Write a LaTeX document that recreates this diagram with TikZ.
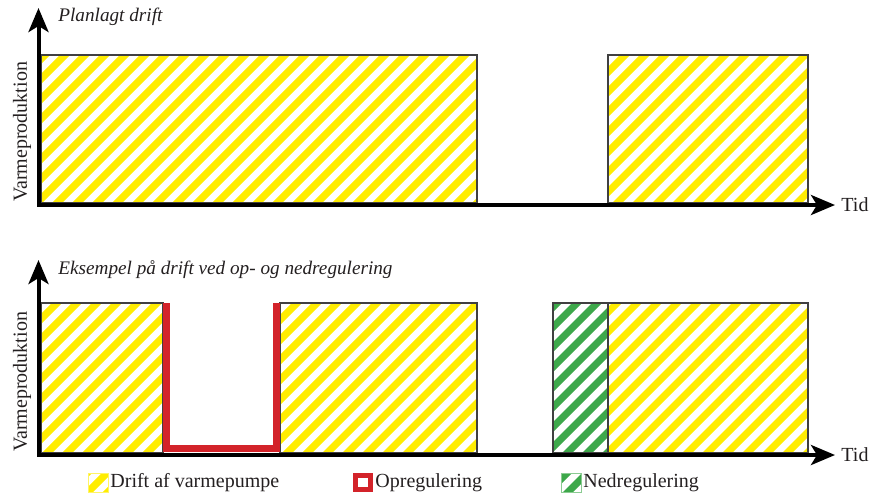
\documentclass[tikz,border=0pt]{standalone}
\usepackage{fontspec}
\setmainfont{Liberation Serif}
\usetikzlibrary{arrows.meta,positioning}
\definecolor{hpyellow}{RGB}{255,237,0}
\definecolor{upred}{RGB}{211,35,42}
\definecolor{downgreen}{RGB}{61,168,74}
\definecolor{framegray}{RGB}{64,64,64}
\definecolor{inkgray}{RGB}{35,31,32}

% diagonal stripes in colour #2 inside the rectangle #3--#4, edge style #1
\newcommand{\stripebox}[4][frame]{%
  \begin{scope}
    \clip #3 rectangle #4;
    \foreach \s in {-500,-480,...,880}
      \draw[#2,line width=3.55pt] (\s,520) -- ++(520,-520);
  \end{scope}
  \draw[#1] #3 rectangle #4;
}

\begin{document}
\begin{tikzpicture}[x=0.5pt,y=-0.5pt,font=\fontsize{10}{12}\selectfont,text=inkgray,
    frame/.style={draw=framegray,line width=0.55pt},
    axis/.style={line width=2pt,black,line join=miter,
                 {Stealth[length=12pt,width=10pt,inset=3pt]}-{Stealth[length=12pt,width=10pt,inset=3pt]}},
    lbl/.style={inner sep=1pt},
    ttl/.style={inner sep=1pt,anchor=west,font=\fontsize{9.6}{12}\selectfont\itshape},
    upbar/.style={draw=upred,line width=3.5pt,line join=miter}]
  \useasboundingbox (0,0) rectangle (870,493);

  % planned operation
  \stripebox{hpyellow}{(41,55)}{(477,203)}
  \stripebox{hpyellow}{(608,55)}{(808,203)}
  \coordinate (o1) at (38.5,205);
  \coordinate (ytip1) at (38.5,8);
  \coordinate (xtip1) at (835,205);
  \draw[axis] (ytip1) -- (o1) -- (xtip1);
  \node[lbl,right=2pt of xtip1] (tid1) {Tid};
  \node[ttl] (title1) at (56,17) {Planlagt drift};
  \node[lbl,rotate=90] (ylab1) at (22,132) {Varmeproduktion};

  % operation with up- and down-regulation
  \stripebox{hpyellow}{(41,303)}{(163,453)}
  \stripebox{hpyellow}{(280,303)}{(477,453)}
  \stripebox{downgreen}{(553,303)}{(608,453)}
  \stripebox{hpyellow}{(608,303)}{(808,453)}
  \draw[upbar] (166.5,303) -- (166.5,448.5) -- (276.5,448.5) -- (276.5,303);
  \coordinate (o2) at (38.5,455);
  \coordinate (ytip2) at (38.5,260);
  \coordinate (xtip2) at (835,455);
  \draw[axis] (ytip2) -- (o2) -- (xtip2);
  \node[lbl,right=2pt of xtip2] (tid2) {Tid};
  \node[ttl] (title2) at (56,270) {Eksempel på drift ved op- og nedregulering};
  \node[lbl,rotate=90] (ylab2) at (22,382) {Varmeproduktion};

  % legend
  \stripebox[draw=hpyellow!60,line width=0.5pt]{hpyellow}{(88,473)}{(108,492)}
  \coordinate (leg1) at (108,483);
  \node[lbl,right=0pt of leg1] (legtxt1) {Drift af varmepumpe};
  \draw[upred,line width=2.6pt] (355.5,475.5) rectangle (370.5,489.5);
  \coordinate (leg2) at (373,483);
  \node[lbl,right=0pt of leg2] (legtxt2) {Opregulering};
  \stripebox[draw=downgreen!60,line width=0.5pt]{downgreen}{(561,473)}{(581,492)}
  \coordinate (leg3) at (581,483);
  \node[lbl,right=0pt of leg3] (legtxt3) {Nedregulering};
\end{tikzpicture}
\end{document}
